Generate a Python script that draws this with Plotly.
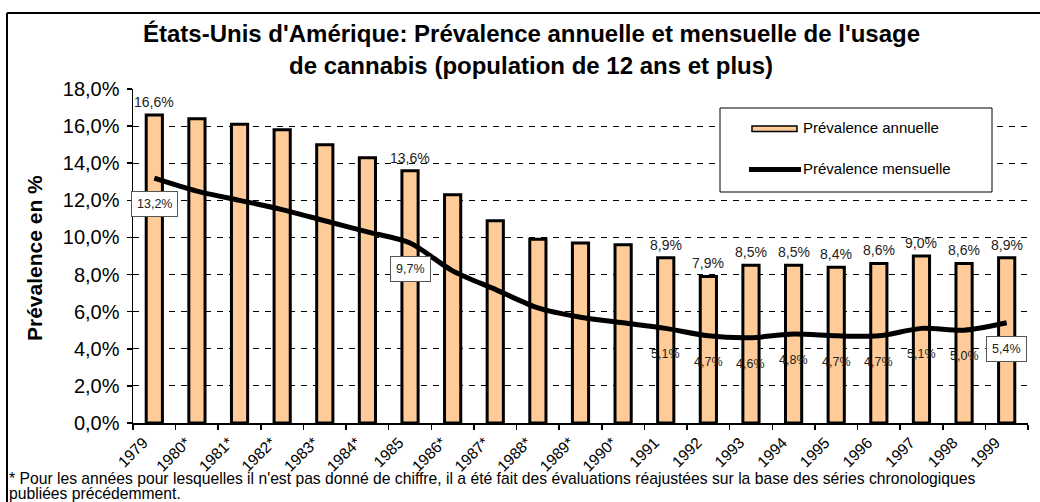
import plotly.graph_objects as go

# ---------------- data ----------------
years = ["1979", "1980*", "1981*", "1982*", "1983*", "1984*", "1985", "1986*", "1987*",
         "1988*", "1989*", "1990*", "1991", "1992", "1993", "1994", "1995", "1996",
         "1997", "1998", "1999"]
annual = [16.6, 16.4, 16.1, 15.8, 15.0, 14.3, 13.6, 12.3, 10.9, 9.9, 9.7, 9.6,
          8.9, 7.9, 8.5, 8.5, 8.4, 8.6, 9.0, 8.6, 8.9]
monthly = [13.2, 12.5, 12.0, 11.5, 10.9, 10.3, 9.7, 8.2, 7.2, 6.2, 5.7, 5.4,
           5.1, 4.7, 4.6, 4.8, 4.7, 4.7, 5.1, 5.0, 5.4]
labeled_years = ["1979", "1985", "1991", "1992", "1993", "1994", "1995", "1996",
                 "1997", "1998", "1999"]
boxed_monthly_years = ["1979", "1985", "1999"]
y_ticks = [0, 2, 4, 6, 8, 10, 12, 14, 16, 18]

title_l1 = "États-Unis d'Amérique: Prévalence annuelle et mensuelle de l'usage"
title_l2 = "de cannabis (population de 12 ans et plus)"
y_title = "Prévalence en %"
name_annual = "Prévalence annuelle"
name_monthly = "Prévalence mensuelle"
foot_l1 = ("* Pour les années pour lesquelles il n'est pas donné de chiffre, il a été fait "
           "des évaluations réajustées sur la base des séries chronologiques")
foot_l2 = "publiées précédemment."

# ---------------- geometry ----------------
W, H = 1040, 502
ML, MR, MT, MB = 133, 12, 89, 79
PW = W - ML - MR
PH = H - MT - MB
FONT = "Arial, 'Liberation Sans', sans-serif"


def px(xp):
    return (xp - ML) / PW


def py(yp):
    return (H - MB - yp) / PH


def fmt(v):
    return f"{v:.1f}%".replace(".", ",")


fig = go.Figure()
fig.add_trace(go.Bar(
    x=years, y=annual, name=name_annual, width=0.38,
    marker=dict(color="#FFCC99", line=dict(color="black", width=3)),
    showlegend=False, hoverinfo="skip",
))
fig.add_trace(go.Scatter(
    x=years, y=monthly, name=name_monthly, mode="lines",
    line=dict(color="black", width=5, shape="spline", smoothing=0.8),
    showlegend=False, hoverinfo="skip",
))

annotations = []
for i, (yr, a, m) in enumerate(zip(years, annual, monthly)):
    if yr in labeled_years:
        annotations.append(dict(x=i, y=a, xref="x", yref="y", text=fmt(a),
                                showarrow=False, yanchor="bottom", yshift=3,
                                font=dict(family=FONT, size=14, color="#222")))
        boxed = yr in boxed_monthly_years
        ann = dict(x=i, y=m, xref="x", yref="y", text=fmt(m),
                   showarrow=False, yanchor="middle", yshift=-26,
                   font=dict(family=FONT, size=12.5, color="#222"))
        if boxed:
            ann.update(bgcolor="white", bordercolor="#555", borderwidth=1, borderpad=5)
        annotations.append(ann)

# titles
annotations.append(dict(x=px(531), y=py(33), xref="paper", yref="paper", text=f"<b>{title_l1}</b>",
                        showarrow=False, xanchor="center", yanchor="middle",
                        font=dict(family=FONT, size=24, color="black")))
annotations.append(dict(x=px(531), y=py(65), xref="paper", yref="paper", text=f"<b>{title_l2}</b>",
                        showarrow=False, xanchor="center", yanchor="middle",
                        font=dict(family=FONT, size=24, color="black")))
# y title
annotations.append(dict(x=px(34), y=py(258), xref="paper", yref="paper", text=f"<b>{y_title}</b>",
                        showarrow=False, textangle=-90, xanchor="center", yanchor="middle",
                        font=dict(family=FONT, size=21, color="black")))
# footnote
annotations.append(dict(x=px(7), y=py(478), xref="paper", yref="paper", text=foot_l1,
                        showarrow=False, xanchor="left", yanchor="middle",
                        font=dict(family=FONT, size=15.7, color="black")))
annotations.append(dict(x=px(7), y=py(493), xref="paper", yref="paper", text=foot_l2,
                        showarrow=False, xanchor="left", yanchor="middle",
                        font=dict(family=FONT, size=15.7, color="black")))
# legend texts
annotations.append(dict(x=px(801), y=py(127), xref="paper", yref="paper", text=name_annual,
                        showarrow=False, xanchor="left", yanchor="middle",
                        font=dict(family=FONT, size=15, color="black")))
annotations.append(dict(x=px(801), y=py(168), xref="paper", yref="paper", text=name_monthly,
                        showarrow=False, xanchor="left", yanchor="middle",
                        font=dict(family=FONT, size=15, color="black")))

shapes = [
    # outer frame (left & top edges visible)
    dict(type="line", xref="paper", yref="paper", x0=px(7), x1=px(1045), y0=py(13), y1=py(13),
         line=dict(color="black", width=2)),
    dict(type="line", xref="paper", yref="paper", x0=px(7), x1=px(7), y0=py(13), y1=py(510),
         line=dict(color="black", width=2)),
    # legend box
    dict(type="rect", xref="paper", yref="paper", x0=px(720), x1=px(992), y0=py(108), y1=py(192),
         line=dict(color="black", width=1), fillcolor="white", layer="above"),
    # legend swatches
    dict(type="rect", xref="paper", yref="paper", x0=px(752), x1=px(797), y0=py(126), y1=py(131.5),
         line=dict(color="black", width=1.5), fillcolor="#FFCC99", layer="above"),
    dict(type="line", xref="paper", yref="paper", x0=px(749), x1=px(801), y0=py(169.5), y1=py(169.5),
         line=dict(color="black", width=5), layer="above"),
]

fig.update_layout(
    width=W, height=H,
    margin=dict(l=ML, r=MR, t=MT, b=MB, autoexpand=False),
    paper_bgcolor="white", plot_bgcolor="white",
    separators=",.",
    showlegend=False,
    hovermode=False,
    annotations=annotations,
    shapes=shapes,
    font=dict(family=FONT, color="black"),
    xaxis=dict(
        type="category", range=[-0.5, 20.5], tickson="boundaries",
        showline=True, linecolor="black", linewidth=1.5,
        ticks="outside", ticklen=5, tickcolor="black", tickwidth=1.5,
        tickangle=-45, ticklabelshift=-11, ticklabelstandoff=3,
        tickfont=dict(family=FONT, size=15.5, color="black"),
        showgrid=False, automargin=False, fixedrange=True,
    ),
    yaxis=dict(
        range=[0, 18], tickmode="array", tickvals=y_ticks,
        ticktext=[fmt(v) for v in y_ticks],
        showline=True, linecolor="black", linewidth=1.5,
        ticks="outside", ticklen=5, tickcolor="black", tickwidth=1.5,
        ticklabelstandoff=3,
        tickfont=dict(family=FONT, size=20, color="black"),
        showgrid=True, gridcolor="black", gridwidth=1, griddash="6px,6px",
        zeroline=False, automargin=False, fixedrange=True,
    ),
)

fig.write_html("out.html", config={"displayModeBar": False, "staticPlot": True},
               post_script="document.body.style.margin='0';")
